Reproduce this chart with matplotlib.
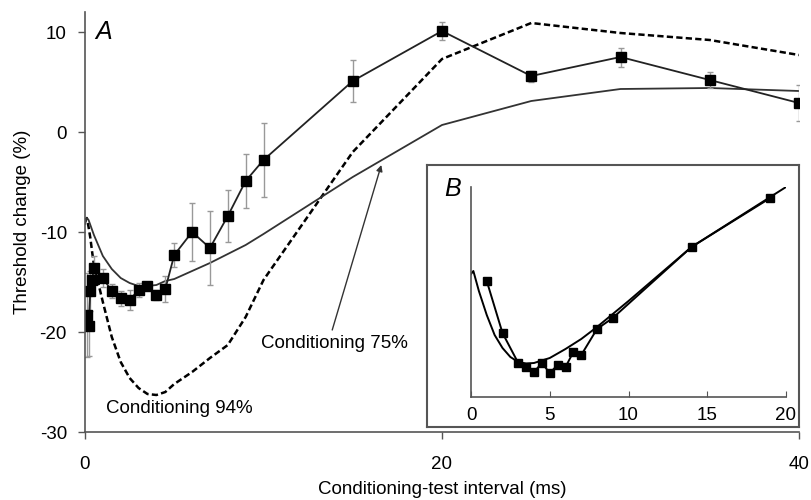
import numpy as np
import matplotlib
matplotlib.use("Agg")
import matplotlib.pyplot as plt

plt.rcParams['font.family'] = ['Liberation Sans', 'DejaVu Sans']
plt.rcParams['font.size'] = 13.5
plt.rcParams['axes.unicode_minus'] = False

# Panel A: measured threshold change with SEM
data_x = [0.1, 0.2, 0.3, 0.4, 0.5, 1, 1.5, 2, 2.5, 3, 3.5, 4, 4.5, 5,
          6, 7, 8, 9, 10, 15, 20, 25, 30, 35, 40]
data_y = [-18.3, -19.4, -15.9, -14.8, -13.6, -14.6, -15.9, -16.6, -16.8, -15.8, -15.4, -16.3, -15.7, -12.3,
          -10.0, -11.6, -8.4, -4.9, -2.8, 5.1, 10.1, 5.6, 7.5, 5.2, 2.9]
data_err = [4.2, 3.0, 2.0, 1.5, 1.2, 0.9, 0.7, 0.75, 1.0, 0.7, 0.4, 0.5, 1.3, 1.2,
            2.9, 3.7, 2.6, 2.7, 3.7, 2.1, 0.9, 0.55, 0.95, 0.8, 1.8]

# model curves
model_x = [0, 0.1, 0.2, 0.3, 0.4, 0.5, 1, 1.5, 2, 2.5, 3, 3.5, 4, 4.5, 5,
           6, 7, 8, 9, 10, 15, 20, 25, 30, 35, 40]
cond75_y = [-9.2, -8.6, -8.8, -9.3, -9.8, -10.3, -12.4, -13.7, -14.6, -15.1, -15.4, -15.4, -15.3, -14.9, -14.7,
            -13.9, -13.1, -12.2, -11.3, -10.2, -4.5, 0.7, 3.1, 4.3, 4.4, 4.1]
cond94_y = [-9.0, -8.6, -9.5, -10.6, -12.0, -13.3, -17.0, -20.5, -23.0, -24.6, -25.6, -26.2, -26.3, -26.0, -25.2,
            -24.0, -22.6, -21.3, -18.5, -14.8, -2.0, 7.3, 10.9, 9.9, 9.2, 7.7]

# Panel B: measured vs fitted (arbitrary units)
b_x = [1, 2, 3, 3.5, 4, 4.5, 5, 5.5, 6, 6.5, 7, 8, 9, 14, 19]
b_y = [11.6, 6.4, 3.4, 3.0, 2.5, 3.4, 2.4, 3.2, 3.0, 4.5, 4.2, 6.8, 7.9, 15.0, 19.9]
fit_x = [0, 0.15, 0.5, 1, 1.5, 2, 2.5, 3, 3.5, 4, 5, 6, 7, 8, 9, 10, 12, 14, 16, 18, 20]
fit_y = [12.3, 12.6, 10.6, 8.2, 6.2, 4.9, 4.0, 3.5, 3.35, 3.4, 3.9, 4.8, 5.8, 7.0, 8.3, 9.6, 12.3, 15.0, 17.0, 19.0, 21.0]

grey = '#555555'

fig = plt.figure(figsize=(8.11, 5.0), dpi=100)
ax = fig.add_axes([85/811, 68/500, 714/811, 420/500])

ax.plot(model_x, cond94_y, color='black', lw=1.8, dashes=(2.5, 1.3))
ax.plot(model_x, cond75_y, color='#333333', lw=1.3)
ax.errorbar(data_x, data_y, yerr=data_err, color='#222222', lw=1.3,
            marker='s', ms=6.5, mfc='black', mec='black',
            ecolor='#999999', elinewidth=1, capsize=2, capthick=1)

ax.set_xlim(0, 40)
ax.set_ylim(-30, 12)
ax.set_xticks([0, 20, 40])
ax.set_yticks([-30, -20, -10, 0, 10])
for s in ['top', 'right']:
    ax.spines[s].set_visible(False)
for s in ['left', 'bottom']:
    ax.spines[s].set_color(grey)
    ax.spines[s].set_linewidth(1.2)
ax.tick_params(axis='both', direction='out', length=5, color=grey, width=1)
ax.tick_params(axis='x', pad=12)
ax.tick_params(axis='y', pad=8)
ax.set_xlabel('Conditioning-test interval (ms)', labelpad=6)
ax.set_ylabel('Threshold change (%)', labelpad=6)

ax.text(0.6, 10, 'A', fontsize=18, style='italic', va='center', ha='left')
ax.text(5.3, -27.6, 'Conditioning 94%', ha='center', va='center')
ax.text(14.0, -21.1, 'Conditioning 75%', ha='center', va='center')
ax.annotate('', xy=(16.6, -3.3), xytext=(13.85, -19.8),
            arrowprops=dict(arrowstyle='-|>', lw=1, color='#333333',
                            mutation_scale=9, shrinkA=0, shrinkB=0))

# inset frame
frame = fig.add_axes([427/811, 73/500, 372/811, 262/500])
frame.set_xticks([])
frame.set_yticks([])
frame.set_facecolor('white')
for s in frame.spines.values():
    s.set_color(grey)
    s.set_linewidth(1.5)

ins = fig.add_axes([471/811, 103/500, 315/811, 210/500])
ins.patch.set_alpha(0)
ins.plot(fit_x, fit_y, color='black', lw=1.4)
ins.plot(b_x, b_y, color='black', lw=1.4, marker='s', ms=5.5)
ins.set_xlim(0, 20)
ins.set_ylim(0, 21)
ins.set_xticks([0, 5, 10, 15, 20])
ins.set_yticks([])
for s in ['top', 'right']:
    ins.spines[s].set_visible(False)
for s in ['left', 'bottom']:
    ins.spines[s].set_color(grey)
    ins.spines[s].set_linewidth(1.2)
ins.tick_params(axis='x', direction='in', length=4, color=grey, pad=7)
ins.text(-1.2, 20.8, 'B', fontsize=18, style='italic', va='center', ha='center')

fig.savefig('out.png', dpi=100)
